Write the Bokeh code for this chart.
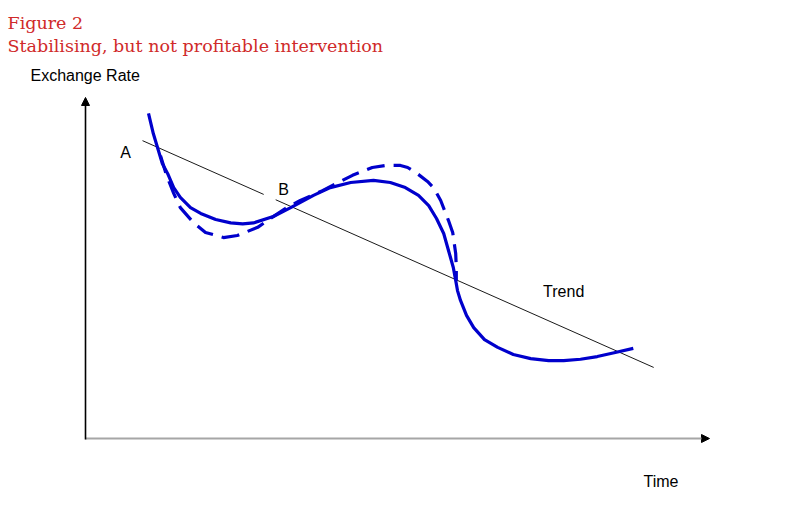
from bokeh.plotting import figure
from bokeh.models import Range1d, Label, Arrow, NormalHead
from bokeh.embed import file_html
from bokeh.resources import INLINE

# ---- data (Time units, Exchange-rate units) ----
actual_t = [10.5, 11.3, 12.0, 12.8, 13.7, 14.7, 15.8, 17.5, 19.2, 21.7, 24.2, 26.2, 28.0, 31.3, 34.2,
            38.0, 40.8, 44.2, 48.0, 50.8, 53.3, 55.5, 57.2, 58.5, 59.7, 60.5, 61.3, 61.7, 62.0,
            62.5, 63.5, 64.7, 66.5, 68.7, 71.3, 74.2, 77.2, 79.7, 82.5, 85.3, 88.3, 91.3]
actual_rate = [95.6, 89.7, 85.6, 80.9, 77.9, 73.8, 70.9, 67.9, 66.2, 64.4, 63.4, 63.1, 63.4, 65.3, 67.9,
               71.5, 73.8, 75.3, 75.9, 75.3, 73.8, 71.5, 68.5, 64.7, 60.3, 55.3, 50.3, 46.5, 43.5,
               40.6, 36.2, 32.6, 29.1, 26.8, 24.7, 23.5, 22.9, 22.9, 23.3, 24.1, 25.3, 26.5]

nointerv_t = [12.5, 13.5, 14.7, 15.8, 18.0, 20.0, 23.0, 25.3, 28.7, 30.8, 33.3, 35.8, 39.5, 42.5,
              44.5, 47.8, 50.0, 52.5, 53.7, 55.3, 57.0, 58.0, 59.2, 60.5, 61.2, 61.7, 61.8, 61.8]
nointerv_rate = [83.2, 77.4, 72.1, 67.9, 63.5, 60.6, 59.1, 59.7, 62.1, 64.7, 67.6, 70.0, 72.9, 75.6,
                 77.4, 79.7, 80.3, 80.3, 79.7, 77.9, 75.6, 73.8, 70.0, 64.1, 60.6, 54.4, 50.3, 46.5]

trend_t = [9.5, 94.7]
trend_rate = [87.6, 20.9]
trend_gap_t = [29.7, 31.7]   # break in the trend line under label "B"

axis_time_max = 104.0
axis_rate_max = 100.3

# ---- figure ----
W, H = 779, 494
p = figure(width=W, height=H, output_backend="svg", toolbar_location=None,
           x_range=Range1d(-14.167, 115.667), y_range=Range1d(-16.47, 128.82),
           min_border=0, min_border_left=0, min_border_right=0,
           min_border_top=0, min_border_bottom=0)
p.axis.visible = False
p.grid.visible = False
p.outline_line_color = None
p.background_fill_color = "white"
p.border_fill_color = "white"

def trend_at(t):
    return trend_rate[0] + (trend_rate[1] - trend_rate[0]) * (t - trend_t[0]) / (trend_t[1] - trend_t[0])

p.multi_line(xs=[[trend_t[0], trend_gap_t[0]], [trend_gap_t[1], trend_t[1]]],
             ys=[[trend_rate[0], trend_at(trend_gap_t[0])], [trend_at(trend_gap_t[1]), trend_rate[1]]],
             line_color="#1a1a1a", line_width=1)

# curves
p.line(nointerv_t, nointerv_rate, line_color="#0000cc", line_width=3.2,
       line_dash="18 9", line_cap="butt", line_join="round")
p.line(actual_t, actual_rate, line_color="#0000cc", line_width=3.2, line_join="round")

# axes
p.add_layout(Arrow(end=NormalHead(size=8, fill_color="black", line_color="black"),
                   x_start=0, y_start=0, x_end=axis_time_max, y_end=0,
                   line_color="#a6a6a6", line_width=2.2))
p.add_layout(Arrow(end=NormalHead(size=8, fill_color="black", line_color="black"),
                   x_start=0, y_start=-0.3, x_end=0, y_end=axis_rate_max,
                   line_color="black", line_width=1.6))

sans = "Liberation Sans"
def lab(x, y, txt, align="left", baseline="middle", size="16px"):
    p.add_layout(Label(x=x, y=y, text=txt, text_font=sans, text_font_size=size,
                       text_color="black", text_align=align, text_baseline=baseline))

lab(-9.17, 106.8, "Exchange Rate")
lab(93.0, -12.6, "Time")
lab(6.67, 84.1, "A", align="center")
lab(33.0, 73.2, "B", align="center")
lab(79.7, 43.2, "Trend", align="center")

# titles
serif = "DejaVu Serif"
p.add_layout(Label(x=7, y=H - 22, x_units="screen", y_units="screen", text="Figure 2",
                   text_font=serif, text_font_size="17.5px", text_color="#d02a2a",
                   text_baseline="middle"))
p.add_layout(Label(x=7, y=H - 45, x_units="screen", y_units="screen",
                   text="Stabilising, but not profitable intervention",
                   text_font=serif, text_font_size="17.5px", text_color="#d02a2a",
                   text_baseline="middle"))

open("out.html", "w").write(file_html(p, INLINE))
